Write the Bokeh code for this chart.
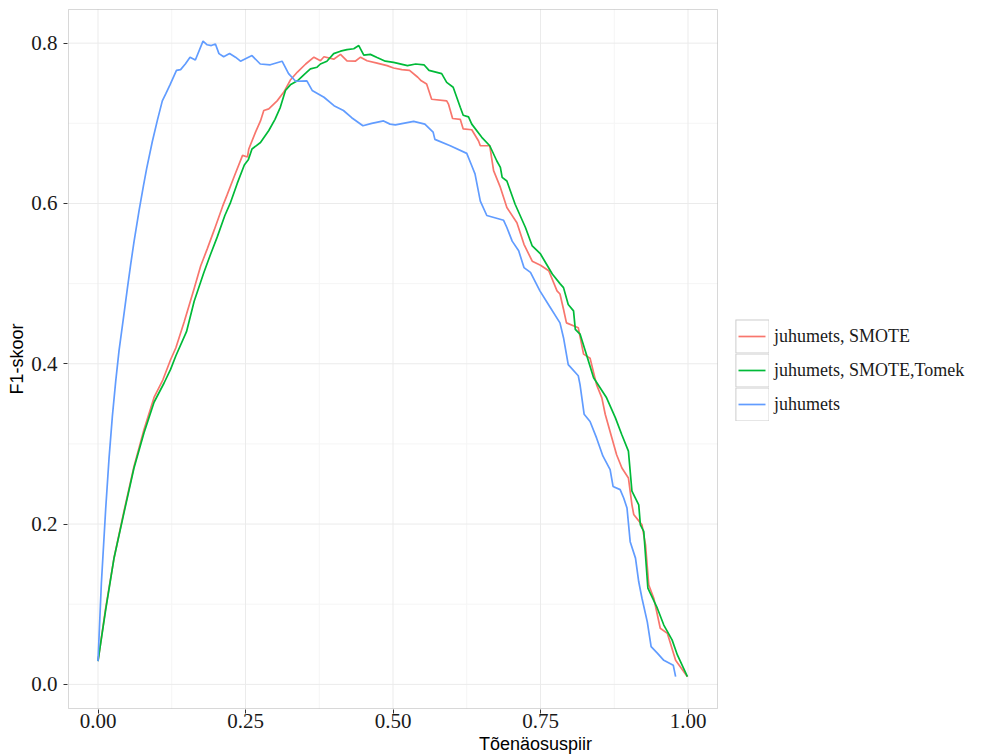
from bokeh.plotting import figure
from bokeh.models import Range1d, FixedTicker, Legend, LegendItem, BoxAnnotation
from bokeh.embed import file_html
from bokeh.resources import INLINE

# ---- data ----
x_smote = [0, 0.013, 0.027, 0.044, 0.061, 0.078, 0.095, 0.11, 0.123, 0.132, 0.146, 0.163,
           0.174, 0.1855, 0.197, 0.211, 0.219, 0.231, 0.245, 0.2534, 0.2556,
           0.267, 0.2754, 0.281, 0.2895, 0.3036, 0.315, 0.326, 0.338, 0.352, 0.366, 0.377, 0.383,
           0.3995, 0.411, 0.422, 0.436, 0.445, 0.456, 0.473, 0.49, 0.501, 0.515, 0.528, 0.542,
           0.548, 0.557, 0.5655, 0.591, 0.594, 0.601, 0.614, 0.619, 0.6335, 0.645, 0.648, 0.664,
           0.6705, 0.682, 0.693, 0.71, 0.722, 0.736, 0.75, 0.764, 0.778, 0.783, 0.789, 0.794,
           0.814, 0.823, 0.834, 0.845, 0.854, 0.8597, 0.871, 0.879, 0.888, 0.899, 0.905, 0.908,
           0.922, 0.928, 0.9335, 0.942, 0.953, 0.965, 0.979, 0.999]
y_smote = [0.029, 0.095, 0.157, 0.216, 0.272, 0.318, 0.358, 0.38, 0.405, 0.42, 0.452, 0.494,
           0.522, 0.544, 0.567, 0.596, 0.611, 0.634, 0.66, 0.658, 0.668,
           0.689, 0.703, 0.716, 0.718, 0.728, 0.739, 0.754, 0.764, 0.774, 0.7825, 0.778, 0.783,
           0.78, 0.786, 0.778, 0.7775, 0.7825, 0.778, 0.775, 0.772, 0.769, 0.767, 0.766, 0.7575,
           0.753, 0.749, 0.73, 0.728, 0.724, 0.706, 0.705, 0.693, 0.692, 0.678, 0.672, 0.672,
           0.641, 0.62, 0.595, 0.576, 0.549, 0.528, 0.523, 0.516, 0.491, 0.487, 0.468, 0.451,
           0.445, 0.412, 0.407, 0.374, 0.3575, 0.337, 0.3075, 0.2865, 0.27, 0.2575, 0.224, 0.212,
           0.199, 0.174, 0.124, 0.1075, 0.07, 0.0637, 0.03, 0.0096]

x_tomek = [0, 0.013, 0.027, 0.044, 0.061, 0.078, 0.095, 0.112, 0.123, 0.132, 0.15, 0.163,
           0.179, 0.19, 0.202, 0.215, 0.224, 0.236, 0.248, 0.255, 0.261,
           0.2754, 0.2895, 0.3, 0.309, 0.3177, 0.326, 0.338, 0.352, 0.36, 0.3713, 0.377, 0.388,
           0.3995, 0.411, 0.422, 0.4335, 0.442, 0.4505, 0.4616, 0.473, 0.487, 0.501, 0.5245,
           0.5385, 0.5525, 0.561, 0.5825, 0.591, 0.602, 0.614, 0.619, 0.628, 0.6335, 0.6505,
           0.664, 0.676, 0.682, 0.685, 0.693, 0.707, 0.7245, 0.736, 0.75, 0.77, 0.783, 0.789,
           0.797, 0.806, 0.809, 0.817, 0.826, 0.84, 0.862, 0.877, 0.8875, 0.899, 0.905, 0.9165,
           0.9193, 0.925, 0.932, 0.948, 0.959, 0.973, 0.982, 0.999]
y_tomek = [0.029, 0.093, 0.157, 0.214, 0.27, 0.314, 0.352, 0.376, 0.393, 0.41, 0.44, 0.478,
           0.513, 0.535, 0.558, 0.585, 0.6, 0.625, 0.648, 0.655, 0.668,
           0.676, 0.691, 0.705, 0.72, 0.741, 0.748, 0.753, 0.7625, 0.768, 0.77, 0.774, 0.7775,
           0.787, 0.79, 0.792, 0.793, 0.797, 0.785, 0.786, 0.782, 0.7775, 0.776, 0.772,
           0.774, 0.773, 0.766, 0.762, 0.751, 0.745, 0.72, 0.71, 0.708, 0.699, 0.6825,
           0.672, 0.653, 0.645, 0.6325, 0.628, 0.599, 0.57, 0.547, 0.537, 0.512, 0.5, 0.495,
           0.474, 0.466, 0.443, 0.437, 0.416, 0.3825, 0.3575, 0.3325, 0.312, 0.291, 0.241, 0.224,
           0.199, 0.191, 0.12, 0.095, 0.074, 0.0555, 0.0367, 0.0096]

x_base = [0, 0.0057, 0.013, 0.0187, 0.0243, 0.03, 0.0356, 0.044, 0.0498, 0.0554, 0.061, 0.0696,
          0.077, 0.0826, 0.092, 0.1007, 0.109, 0.115, 0.122, 0.133, 0.14, 0.148, 0.156, 0.165,
          0.178, 0.185, 0.192, 0.199, 0.205, 0.213, 0.223, 0.233, 0.2415, 0.261, 0.275, 0.292,
          0.312, 0.323, 0.335, 0.354, 0.363, 0.383, 0.4, 0.416, 0.43, 0.449, 0.464, 0.484, 0.495,
          0.504, 0.535, 0.554, 0.568, 0.571, 0.597, 0.625, 0.6335, 0.639, 0.648, 0.659, 0.6875,
          0.693, 0.702, 0.713, 0.722, 0.733, 0.749, 0.765, 0.783, 0.789, 0.797, 0.814, 0.817,
          0.824, 0.834, 0.845, 0.8557, 0.868, 0.873, 0.885, 0.891, 0.8966, 0.902, 0.911, 0.9165,
          0.922, 0.931, 0.9375, 0.948, 0.959, 0.975, 0.979]
y_base = [0.029, 0.126, 0.2185, 0.282, 0.334, 0.378, 0.416, 0.462, 0.494, 0.524, 0.552, 0.591,
          0.622, 0.644, 0.677, 0.704, 0.728, 0.737, 0.748, 0.766, 0.767, 0.774, 0.7825, 0.779,
          0.8025, 0.798, 0.797, 0.799, 0.787, 0.783, 0.787, 0.7825, 0.7775, 0.7845, 0.774, 0.773,
          0.7775, 0.762, 0.7525, 0.753, 0.741, 0.7325, 0.722, 0.716, 0.707, 0.697, 0.7, 0.703, 0.699,
          0.698, 0.7025, 0.699, 0.689, 0.68, 0.672, 0.6625, 0.647, 0.637, 0.603, 0.585, 0.579,
          0.57, 0.553, 0.541, 0.52, 0.514, 0.491, 0.472, 0.451, 0.4325, 0.399, 0.385, 0.374,
          0.337, 0.328, 0.3075, 0.285, 0.268, 0.247, 0.243, 0.2325, 0.22, 0.178, 0.1575, 0.128,
          0.1075, 0.078, 0.047, 0.039, 0.03, 0.024, 0.0096]

series_names = ["juhumets, SMOTE", "juhumets, SMOTE,Tomek", "juhumets"]
series_colors = ["#F8766D", "#00BA38", "#619CFF"]

x_ticks = [0.0, 0.25, 0.5, 0.75, 1.0]
x_tick_labels = ["0.00", "0.25", "0.50", "0.75", "1.00"]
x_minor = [0.125, 0.375, 0.625, 0.875]
y_ticks = [0.0, 0.2, 0.4, 0.6, 0.8]
y_tick_labels = ["0.0", "0.2", "0.4", "0.6", "0.8"]
y_minor = [0.1, 0.3, 0.5, 0.7]

x_title = "Tõenäosuspiir"
y_title = "F1-skoor"

# ---- layout: data panel limits (ggplot 5% expansion) and pixel sizes ----
x_lo, x_hi = -0.05, 1.05
y_lo, y_hi = -0.0301, 0.842
panel_w, panel_h = 649, 699      # pixel size of the data panel
legend_area = 286                # pixels right of the panel, kept for the legend
px_x = panel_w / (x_hi - x_lo)
px_y = panel_h / (y_hi - y_lo)

p = figure(width=1003, height=756, output_backend="svg", toolbar_location=None,
           x_range=Range1d(x_lo - 1 / px_x, x_hi + legend_area / px_x),
           y_range=Range1d(y_lo - 1 / px_y, y_hi + 1 / px_y),
           min_border_left=67, min_border_right=0, min_border_top=8, min_border_bottom=47)
p.background_fill_color = "white"
p.border_fill_color = "white"
p.outline_line_color = None
p.xgrid.visible = False
p.ygrid.visible = False

p.xaxis.ticker = FixedTicker(ticks=x_ticks, minor_ticks=x_minor)
p.yaxis.ticker = FixedTicker(ticks=y_ticks, minor_ticks=y_minor)
p.xaxis.major_label_overrides = dict(zip(x_ticks, x_tick_labels))
p.yaxis.major_label_overrides = dict(zip(y_ticks, y_tick_labels))
p.xaxis.bounds = (x_lo, x_hi)
p.yaxis.bounds = (y_lo, y_hi)

for ax in (p.xaxis, p.yaxis):
    ax.axis_line_color = None
    ax.major_tick_in = 0
    ax.major_tick_out = 4
    ax.major_tick_line_color = "#333333"
    ax.minor_tick_line_color = None
    ax.major_label_text_font = "Liberation Serif"
    ax.major_label_text_font_size = "21px"
    ax.major_label_text_color = "#1a1a1a"
    ax.axis_label_text_font = "Liberation Sans"
    ax.axis_label_text_font_size = "18px"
    ax.axis_label_text_font_style = "normal"
    ax.axis_label_text_color = "black"
p.xaxis.major_label_standoff = 0
p.xaxis.axis_label_standoff = 3
p.yaxis.major_label_standoff = 6
p.yaxis.axis_label_standoff = 1
p.xaxis.axis_label = x_title
p.yaxis.axis_label = y_title

# ---- panel grid (limited to the data panel) ----
p.segment(x0=x_minor, y0=[y_lo] * len(x_minor), x1=x_minor, y1=[y_hi] * len(x_minor),
          line_color="#F5F5F5", line_width=1)
p.segment(x0=[x_lo] * len(y_minor), y0=y_minor, x1=[x_hi] * len(y_minor), y1=y_minor,
          line_color="#F5F5F5", line_width=1)
p.segment(x0=x_ticks, y0=[y_lo] * len(x_ticks), x1=x_ticks, y1=[y_hi] * len(x_ticks),
          line_color="#EBEBEB", line_width=1)
p.segment(x0=[x_lo] * len(y_ticks), y0=y_ticks, x1=[x_hi] * len(y_ticks), y1=y_ticks,
          line_color="#EBEBEB", line_width=1)

xs = [x_smote, x_tomek, x_base]
ys = [y_smote, y_tomek, y_base]
for xv, yv, c in zip(xs, ys, series_colors):
    p.line(xv, yv, line_color=c, line_width=1.7)

# panel border
p.add_layout(BoxAnnotation(left=x_lo, right=x_hi, bottom=y_lo, top=y_hi,
                           fill_color=None, fill_alpha=0,
                           line_color="#7F7F7F", line_width=1))

# ---- legend (ggplot-like keys: grey-framed white box with a short line) ----
items = []
for nm, c in zip(series_names, series_colors):
    frame_q = p.quad(left=[-9.0], right=[-8.0], top=[-8.0], bottom=[-9.0],
                     fill_color="#CCCCCC", line_color="#CCCCCC", line_width=7,
                     line_join="miter")
    inner_q = p.quad(left=[-9.0], right=[-8.0], top=[-8.0], bottom=[-9.0],
                     fill_color="white", line_color="white", line_width=5,
                     line_join="miter")
    key_line = p.line([-9.0, -8.0], [-9.0, -9.0], line_color=c, line_width=1.7,
                      line_dash="27 200", line_dash_offset=-3)
    items.append(LegendItem(label=nm, renderers=[frame_q, inner_q, key_line]))

# key column starts 18 px right of the panel, legend centred a little below mid-height
legend = Legend(items=items, location=(1 + panel_w + 18, 288))
legend.glyph_width = 34
legend.glyph_height = 34
legend.spacing = 0
legend.padding = 0
legend.margin = 0
legend.label_standoff = 5
legend.label_text_font = "Liberation Serif"
legend.label_text_font_size = "18px"
legend.label_text_color = "#1a1a1a"
legend.border_line_color = None
legend.background_fill_alpha = 0
p.add_layout(legend)

open("out.html", "w").write(file_html(p, INLINE))
